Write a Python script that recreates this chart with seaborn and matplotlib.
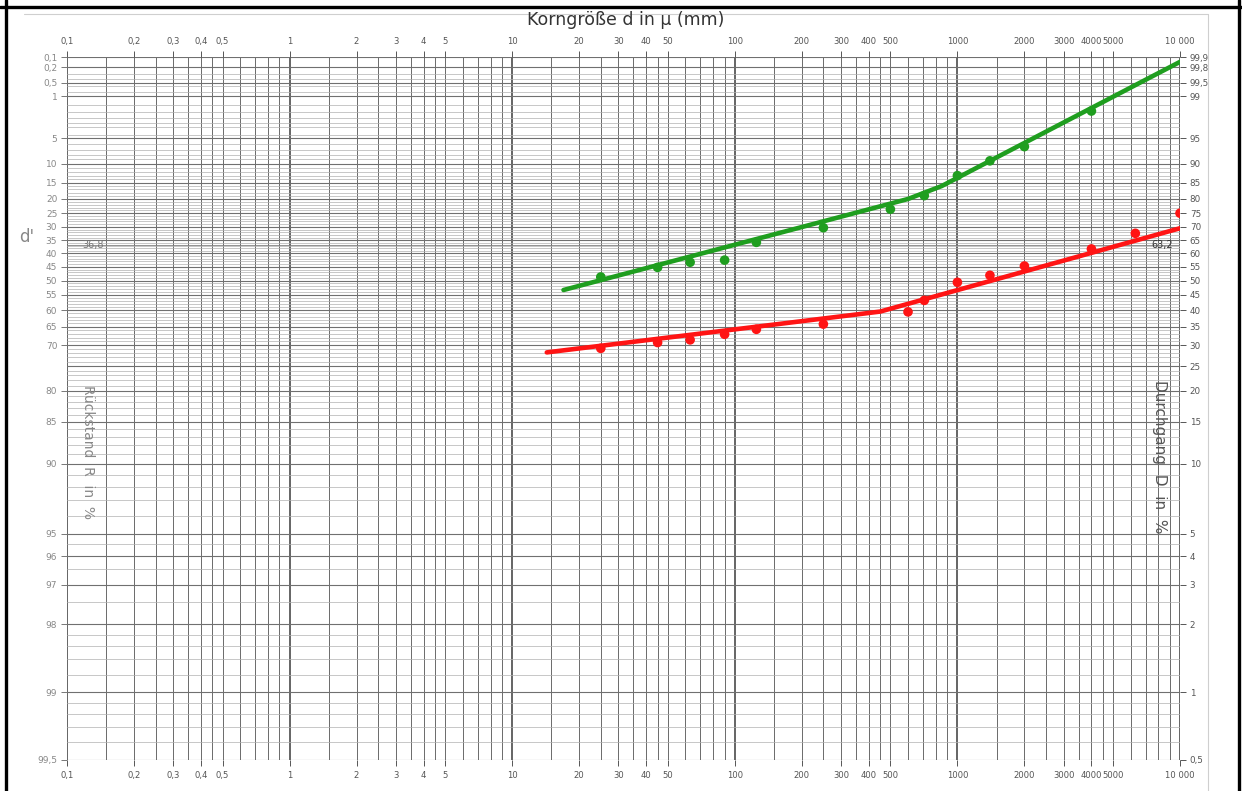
import numpy as np
import pandas as pd
import matplotlib
matplotlib.use("Agg")
import matplotlib.pyplot as plt
import seaborn as sns
from matplotlib.lines import Line2D

# ---------------- data ----------------
green_d = [25, 45, 63, 90, 125, 250, 500, 710, 1000, 1400, 2000, 4000]
green_D = [51.3, 54.8, 56.7, 57.5, 64.2, 69.7, 76.4, 81.0, 87.0, 90.7, 93.6, 98.1]
green_line_d = [17, 600, 850, 10000]
green_line_D = [46.7, 79.9, 84.0, 99.86]

red_d = [25, 45, 63, 90, 125, 250, 600, 710, 1000, 1400, 2000, 4000, 6300, 10000]
red_D = [29.2, 30.7, 31.4, 32.9, 34.3, 35.8, 39.5, 43.2, 49.4, 51.9, 55.3, 61.7, 67.6, 75.0]
red_line_d = [14.3, 450, 10000]
red_line_D = [28.2, 39.6, 69.5]

x_ticks = [0.1, 0.2, 0.3, 0.4, 0.5, 1, 2, 3, 4, 5, 10, 20, 30, 40, 50,
           100, 200, 300, 400, 500, 1000, 2000, 3000, 4000, 5000, 10000]
x_labels = ["0,1", "0,2", "0,3", "0,4", "0,5", "1", "2", "3", "4", "5", "10", "20", "30", "40", "50",
            "100", "200", "300", "400", "500", "1000", "2000", "3000", "4000", "5000", "10 000"]

left_R = [0.1, 0.2, 0.5, 1, 5, 10, 15, 20, 25, 30, 35, 40, 45, 50, 55, 60, 65, 70,
          80, 85, 90, 95, 96, 97, 98, 99, 99.5]
left_labels = ["0,1", "0,2", "0,5", "1", "5", "10", "15", "20", "25", "30", "35", "40", "45",
               "50", "55", "60", "65", "70", "80", "85", "90", "95", "96", "97", "98", "99", "99,5"]

right_D = [99.9, 99.8, 99.5, 99, 95, 90, 85, 80, 75, 70, 65, 60, 55, 50, 45, 40, 35, 30,
           25, 20, 15, 10, 5, 4, 3, 2, 1, 0.5]
right_labels = ["99,9", "99,8", "99,5", "99", "95", "90", "85", "80", "75", "70", "65", "60",
                "55", "50", "45", "40", "35", "30", "25", "20", "15", "10", "5", "4", "3", "2",
                "1", "0,5"]

# paper grid (fine lines)
grid_mantissa = [1, 1.5, 2, 2.5, 3, 3.5, 4, 4.5, 5, 6, 7, 8, 9]
grid_decades = [0.1, 1, 10, 100, 1000]
fine_D = ([0.6, 0.7, 0.8, 0.9, 1.2, 1.4, 1.6, 1.8, 2.5, 3.5, 4.5]
          + list(range(6, 95))
          + [95.5, 96.5, 97, 97.5, 98, 98.5, 99.2, 99.4, 99.6, 99.7])

GREEN = "#1f9e1f"
RED = "#ff1414"
TXT = "#555555"

# ---------------- RRSB scale ----------------
def fwd(D):
    D = np.clip(np.asarray(D, dtype=float), 1e-6, 100 - 1e-9)
    return np.log(-np.log(1 - D / 100.0))

def inv(t):
    t = np.asarray(t, dtype=float)
    return 100.0 * (1 - np.exp(-np.exp(t)))

sns.set_style("white")
plt.rcParams["font.family"] = ["DejaVu Sans"]

W, H = 1242, 791
fig = plt.figure(figsize=(W / 100, H / 100), dpi=100)
fig.patch.set_facecolor("white")
x0, x1, y0, y1 = 67, 1180, 57, 760
ax = fig.add_axes([x0 / W, 1 - y1 / H, (x1 - x0) / W, (y1 - y0) / H])
ax.set_xscale("log")
ax.set_yscale("function", functions=(fwd, inv))
ax.set_xlim(0.1, 10000)
ax.set_ylim(0.5, 99.9)

# grid
for dec in grid_decades:
    for m in grid_mantissa:
        v = dec * m
        if v > 10000:
            continue
        if m == 1:
            ax.axvline(v, color="#3a3a3a", lw=1.1, zorder=0)
        else:
            ax.axvline(v, color="#6a6a6a", lw=0.7, zorder=0)
ax.axvline(10000, color="#3a3a3a", lw=1.1, zorder=0)
for v in fine_D:
    ax.axhline(v, color="#b0b0b0", lw=0.5, zorder=0)
for v in right_D:
    ax.axhline(v, color="#707070", lw=0.8, zorder=0)
ax.axhline(63.2, color="#808080", lw=0.6, zorder=0)

# data
df_gl = pd.DataFrame({"d": green_line_d, "D": green_line_D})
df_rl = pd.DataFrame({"d": red_line_d, "D": red_line_D})
df_g = pd.DataFrame({"d": green_d, "D": green_D})
df_r = pd.DataFrame({"d": red_d, "D": red_D})
sns.lineplot(data=df_gl, x="d", y="D", ax=ax, color=GREEN, lw=3.3, estimator=None, sort=False, zorder=4)
sns.lineplot(data=df_rl, x="d", y="D", ax=ax, color=RED, lw=3.3, estimator=None, sort=False, zorder=4)
sns.scatterplot(data=df_g, x="d", y="D", ax=ax, color=GREEN, s=48, edgecolor="none", zorder=5)
sns.scatterplot(data=df_r, x="d", y="D", ax=ax, color=RED, s=48, edgecolor="none", zorder=5)
ax.set_xlim(0.1, 10000)
ax.set_ylim(0.5, 99.9)
ax.set_xlabel("")
ax.set_ylabel("")

for s in ax.spines.values():
    s.set_visible(False)

# x ticks top & bottom
ax.set_xticks(x_ticks)
ax.set_xticklabels(x_labels)
ax.xaxis.set_minor_locator(matplotlib.ticker.NullLocator())
ax.tick_params(axis="x", which="major", top=True, bottom=True, labeltop=True, labelbottom=True,
               length=4, width=0.7, color="#555", labelsize=6.1, labelcolor=TXT, pad=4, direction="out")

# left ticks (Rückstand R)
ax.set_yticks([100 - r for r in left_R])
ax.set_yticklabels(left_labels)
ax.yaxis.set_minor_locator(matplotlib.ticker.NullLocator())
ax.tick_params(axis="y", which="major", left=True, right=False, labelleft=True, labelright=False,
               length=4, width=0.7, color="#777", labelsize=6.5, labelcolor="#888", pad=3)

# right ticks (Durchgang D)
ax2 = ax.twinx()
ax2.set_yscale("function", functions=(fwd, inv))
ax2.set_ylim(0.5, 99.9)
ax2.set_yticks(right_D)
ax2.set_yticklabels(right_labels)
ax2.yaxis.set_minor_locator(matplotlib.ticker.NullLocator())
ax2.tick_params(axis="y", which="major", right=True, left=False, labelright=True, labelleft=False,
                length=4, width=0.7, color="#555", labelsize=6.3, labelcolor=TXT, pad=3)
for s in ax2.spines.values():
    s.set_visible(False)
ax2.set_ylabel("")

# texts
fig.text(626 / W, 1 - 20 / H, "Korngröße d in µ (mm)", ha="center", va="center",
         fontsize=12.5, color="#333333")
fig.text(88 / W, 1 - 452 / H, "Rückstand  R  in  %", rotation=-90, ha="center", va="center",
         fontsize=10, color="#888888")
fig.text(1160 / W, 1 - 457 / H, "Durchgang  D  in  %", rotation=-90, ha="center", va="center",
         fontsize=11, color="#555555")
fig.text(27 / W, 1 - 237 / H, "d'", ha="center", va="center", fontsize=12, color="#888888")
ax.text(82 / W, 63.2, "36,8", transform=matplotlib.transforms.blended_transform_factory(fig.transFigure, ax.transData),
        ha="left", va="center", fontsize=7, color="#777777")
ax.text(9300, 63.2, "63,2", ha="right", va="center", fontsize=7, color="#333333", zorder=6)

# frame of the scan
for xs, ys, c, lw in [([6, 6], [0, 791], "black", 2.4),
                      ([0, 1242], [7, 7], "black", 2.4),
                      ([1239, 1239], [0, 791], "black", 2.4),
                      ([1208, 1208], [14, 791], "#cfcfcf", 0.8),
                      ([24, 1208], [14, 14], "#cfcfcf", 0.8)]:
    fig.add_artist(Line2D([x / W for x in xs], [1 - y / H for y in ys],
                          transform=fig.transFigure, color=c, lw=lw))

fig.savefig("out.png", dpi=100, facecolor="white")
